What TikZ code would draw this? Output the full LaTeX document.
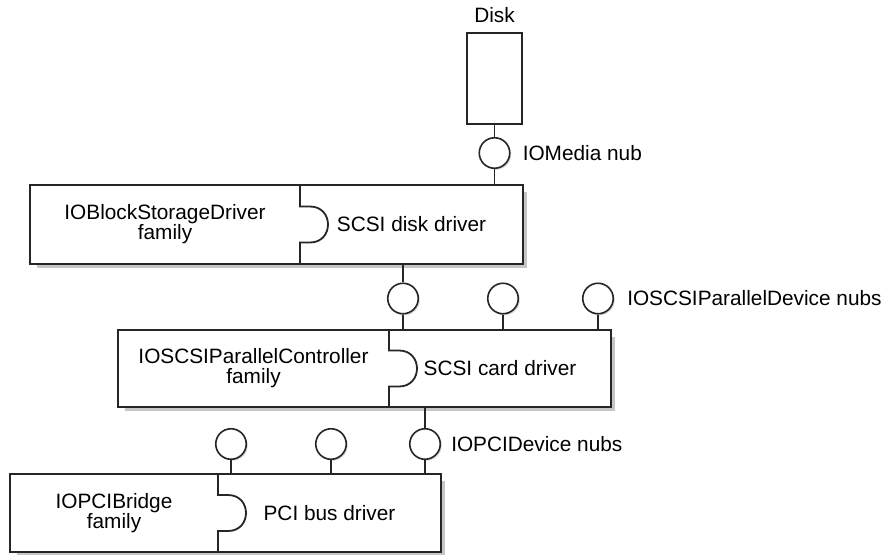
\documentclass[tikz,border=0pt]{standalone}
\usepackage{fontspec}
\setmainfont{Liberation Sans}
\usetikzlibrary{positioning,calc,shadows}
\pgfdeclarelayer{bg}
\pgfsetlayers{bg,main}
\tikzset{
  part/.style={anchor=north west, inner sep=0pt, outer sep=0pt, align=center,
    font=\fontsize{20.8}{20}\selectfont},
  lbl/.style={inner sep=0pt, font=\fontsize{20.8}{20}\selectfont},
  border/.style={line width=1.8pt, black!85},
  stem/.style={line width=1.4pt, black!85},
  nub/.style={circle, draw=black!85, line width=1.6pt, fill=white, minimum size=30.5pt,
    inner sep=0pt, drop shadow={shadow xshift=1.5pt, shadow yshift=-1.5pt, fill=gray!60}},
}
\newcommand{\blockframe}[1]{%
  \begin{pgfonlayer}{bg}
    \fill[gray!45] ([shift={(7,7)}]#1fam.north west) rectangle ([shift={(3.5,4)}]#1drv.south east);
    \fill[white] (#1fam.north west) rectangle (#1drv.south east);
  \end{pgfonlayer}
  \draw[border] (#1fam.north west) rectangle (#1drv.south east);
  \draw[border] (#1fam.north east) -- ($(#1fam.east)+(0,-18)$) -- ++(10,0)
    .. controls +(24,0) and +(24,0) .. ($(#1fam.east)+(10,18)$)
    -- ($(#1fam.east)+(0,18)$) -- (#1fam.south east);
}
\begin{document}
\begin{tikzpicture}[x=1pt, y=-1pt]
  \useasboundingbox (0,0) rectangle (890,554);
  \node[draw=black!85, line width=1.8pt, minimum width=55pt, minimum height=91pt, inner sep=0pt] (disk) at (494.5,78.5) {};
  \node[lbl, above=9pt of disk] (disklbl) {Disk};
  \node[nub] (medianub) at (494.5,153) {};
  \node[lbl, right=12pt of medianub] (medialbl) {IOMedia nub};
  \node[part, minimum width=270pt, minimum height=79pt] (blkfam) at (30,185) {IOBlockStorageDriver\\family};
  \node[part, minimum width=223pt, minimum height=79pt] (blkdrv) at (blkfam.north east) {SCSI disk driver};
  \blockframe{blk}
  \node[part, minimum width=271pt, minimum height=77pt] (scsifam) at (118,330) {IOSCSIParallelController\\family};
  \node[part, minimum width=222pt, minimum height=77pt] (scsidrv) at (scsifam.north east) {SCSI card driver};
  \blockframe{scsi}
  \node[part, minimum width=208pt, minimum height=78pt] (pcifam) at (10,474) {IOPCIBridge\\family};
  \node[part, minimum width=223pt, minimum height=78pt] (pcidrv) at (pcifam.north east) {PCI bus driver};
  \blockframe{pci}
  \draw[stem] (disk) -- (medianub);
  \draw[stem] (medianub) -- (medianub |- blkdrv.north);
  \foreach \x/\n in {403/1, 503/2, 598/3} {
    \node[nub] (devnub\n) at (\x,298.5) {};
    \draw[stem] (devnub\n) -- (devnub\n |- scsidrv.north);
  }
  \draw[stem] (devnub1) -- (devnub1 |- blkdrv.south);
  \node[lbl, right=13pt of devnub3] (devlbl) {IOSCSIParallelDevice nubs};
  \foreach \x/\n in {231/1, 331/2, 425/3} {
    \node[nub] (pcinub\n) at (\x,444) {};
    \draw[stem] (pcinub\n) -- (pcinub\n |- pcidrv.north);
  }
  \draw[stem] (pcinub3) -- (pcinub3 |- scsidrv.south);
  \node[lbl, right=10pt of pcinub3] (pcilbl) {IOPCIDevice nubs};
\end{tikzpicture}
\end{document}
